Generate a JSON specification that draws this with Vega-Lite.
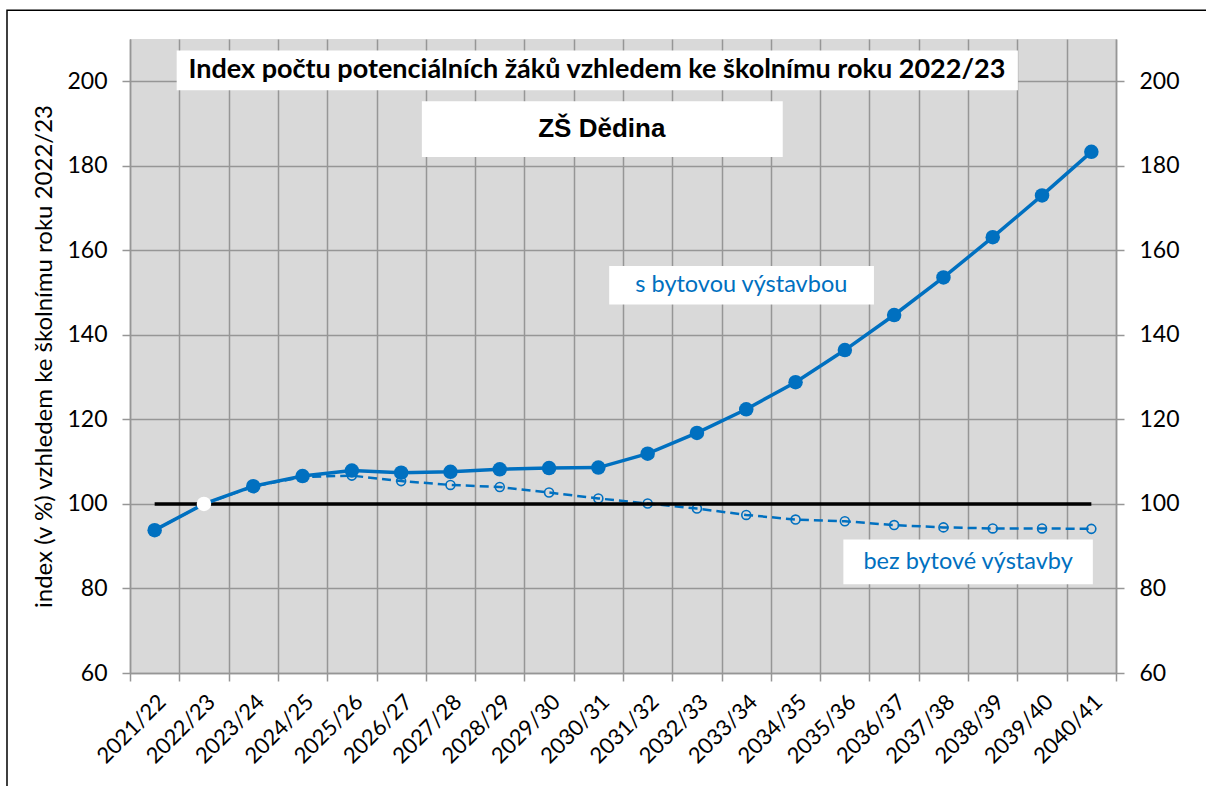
{
  "$schema": "https://vega.github.io/schema/vega-lite/v6.json",
  "width": 986,
  "height": 634,
  "autosize": {"type": "none"},
  "padding": {"left": 130, "top": 39, "right": 90, "bottom": 113},
  "background": "white",
  "config": {"view": {"fill": "#D9D9D9", "stroke": null}, "font": "Lato"},
  "datasets": {
    "series": [
      {"year": "2021/22", "series": "s bytovou výstavbou", "value": 93.8},
      {"year": "2022/23", "series": "s bytovou výstavbou", "value": 100},
      {"year": "2023/24", "series": "s bytovou výstavbou", "value": 104.2},
      {"year": "2024/25", "series": "s bytovou výstavbou", "value": 106.6},
      {"year": "2025/26", "series": "s bytovou výstavbou", "value": 107.9},
      {"year": "2026/27", "series": "s bytovou výstavbou", "value": 107.4},
      {"year": "2027/28", "series": "s bytovou výstavbou", "value": 107.6},
      {"year": "2028/29", "series": "s bytovou výstavbou", "value": 108.2},
      {"year": "2029/30", "series": "s bytovou výstavbou", "value": 108.5},
      {"year": "2030/31", "series": "s bytovou výstavbou", "value": 108.6},
      {"year": "2031/32", "series": "s bytovou výstavbou", "value": 111.9},
      {"year": "2032/33", "series": "s bytovou výstavbou", "value": 116.8},
      {"year": "2033/34", "series": "s bytovou výstavbou", "value": 122.4},
      {"year": "2034/35", "series": "s bytovou výstavbou", "value": 128.8},
      {"year": "2035/36", "series": "s bytovou výstavbou", "value": 136.4},
      {"year": "2036/37", "series": "s bytovou výstavbou", "value": 144.7},
      {"year": "2037/38", "series": "s bytovou výstavbou", "value": 153.6},
      {"year": "2038/39", "series": "s bytovou výstavbou", "value": 163.1},
      {"year": "2039/40", "series": "s bytovou výstavbou", "value": 173.0},
      {"year": "2040/41", "series": "s bytovou výstavbou", "value": 183.3},
      {"year": "2021/22", "series": "bez bytové výstavby", "value": 93.8},
      {"year": "2022/23", "series": "bez bytové výstavby", "value": 100},
      {"year": "2023/24", "series": "bez bytové výstavby", "value": 104.1},
      {"year": "2024/25", "series": "bez bytové výstavby", "value": 106.4},
      {"year": "2025/26", "series": "bez bytové výstavby", "value": 106.7},
      {"year": "2026/27", "series": "bez bytové výstavby", "value": 105.4},
      {"year": "2027/28", "series": "bez bytové výstavby", "value": 104.5},
      {"year": "2028/29", "series": "bez bytové výstavby", "value": 104.0},
      {"year": "2029/30", "series": "bez bytové výstavby", "value": 102.7},
      {"year": "2030/31", "series": "bez bytové výstavby", "value": 101.3},
      {"year": "2031/32", "series": "bez bytové výstavby", "value": 100.1},
      {"year": "2032/33", "series": "bez bytové výstavby", "value": 98.9},
      {"year": "2033/34", "series": "bez bytové výstavby", "value": 97.4},
      {"year": "2034/35", "series": "bez bytové výstavby", "value": 96.3},
      {"year": "2035/36", "series": "bez bytové výstavby", "value": 95.9},
      {"year": "2036/37", "series": "bez bytové výstavby", "value": 95.0},
      {"year": "2037/38", "series": "bez bytové výstavby", "value": 94.45},
      {"year": "2038/39", "series": "bez bytové výstavby", "value": 94.2},
      {"year": "2039/40", "series": "bez bytové výstavby", "value": 94.2},
      {"year": "2040/41", "series": "bez bytové výstavby", "value": 94.1},
      {"year": "2021/22", "series": "základ", "value": 100},
      {"year": "2022/23", "series": "základ", "value": 100},
      {"year": "2023/24", "series": "základ", "value": 100},
      {"year": "2024/25", "series": "základ", "value": 100},
      {"year": "2025/26", "series": "základ", "value": 100},
      {"year": "2026/27", "series": "základ", "value": 100},
      {"year": "2027/28", "series": "základ", "value": 100},
      {"year": "2028/29", "series": "základ", "value": 100},
      {"year": "2029/30", "series": "základ", "value": 100},
      {"year": "2030/31", "series": "základ", "value": 100},
      {"year": "2031/32", "series": "základ", "value": 100},
      {"year": "2032/33", "series": "základ", "value": 100},
      {"year": "2033/34", "series": "základ", "value": 100},
      {"year": "2034/35", "series": "základ", "value": 100},
      {"year": "2035/36", "series": "základ", "value": 100},
      {"year": "2036/37", "series": "základ", "value": 100},
      {"year": "2037/38", "series": "základ", "value": 100},
      {"year": "2038/39", "series": "základ", "value": 100},
      {"year": "2039/40", "series": "základ", "value": 100},
      {"year": "2040/41", "series": "základ", "value": 100}
    ],
    "notes": [
      {"id": "frame", "x": -2.495, "x2": 22, "y": 216.8, "y2": 30},
      {"id": "title", "x": 0.947, "x2": 18.01, "y": 207.3, "y2": 197.9, "tx": 9.47, "ty": 202.6, "label": "Index počtu potenciálních žáků vzhledem ke školnímu roku 2022/23"},
      {"id": "school", "x": 5.92, "x2": 13.24, "y": 195.3, "y2": 182.1, "tx": 9.57, "ty": 188.7, "label": "ZŠ Dědina"},
      {"id": "with", "x": 9.72, "x2": 15.09, "y": 156.3, "y2": 147.2, "tx": 12.4, "ty": 151.75, "label": "s bytovou výstavbou"},
      {"id": "without", "x": 14.47, "x2": 19.53, "y": 91.6, "y2": 81.0, "tx": 17.0, "ty": 86.25, "label": "bez bytové výstavby"}
    ]
  },
  "layer": [
    {
      "data": {"name": "series"},
      "encoding": {
        "x": {
          "field": "year", "type": "ordinal", "sort": null,
          "scale": {"type": "band", "paddingInner": 0, "paddingOuter": 0},
          "axis": {
            "title": null, "labelAngle": -45, "labelFont": "Lato", "labelFontSize": 22, "labelColor": "#000000",
            "labelPadding": 10, "tickBand": "extent", "grid": true, "gridColor": "#969696", "gridWidth": 1.5,
            "domainColor": "#969696", "domainWidth": 1.5, "tickColor": "#969696", "tickWidth": 1.5, "tickSize": 8
          }
        },
        "y": {
          "field": "value", "type": "quantitative",
          "scale": {"domain": [60, 210], "nice": false, "zero": false},
          "axis": {
            "orient": "left", "values": [60, 80, 100, 120, 140, 160, 180, 200],
            "title": "index (v %) vzhledem ke školnímu roku 2022/23", "titleFont": "Lato", "titleFontSize": 24,
            "titleFontWeight": "normal", "titleColor": "#000000", "titlePadding": 10,
            "labelFont": "Lato", "labelFontSize": 23, "labelColor": "#000000", "labelPadding": 15,
            "grid": true, "gridColor": "#969696", "gridWidth": 1.5,
            "domainColor": "#969696", "domainWidth": 1.5, "tickColor": "#969696", "tickWidth": 1.5, "tickSize": 8
          }
        }
      },
      "layer": [
        {"transform": [{"filter": "datum.series === 'bez bytové výstavby'"}], "mark": {"type": "line", "color": "#0070C0", "strokeWidth": 2.5, "strokeDash": [9, 5]}},
        {"transform": [{"filter": "datum.series === 'bez bytové výstavby'"}], "mark": {"type": "point", "shape": "circle", "filled": false, "size": 80, "strokeWidth": 1.6, "color": "#0070C0", "opacity": 1}},
        {"transform": [{"filter": "datum.series === 'základ'"}], "mark": {"type": "line", "color": "#000000", "strokeWidth": 3.5}},
        {"transform": [{"filter": "datum.series === 's bytovou výstavbou'"}], "mark": {"type": "line", "color": "#0070C0", "strokeWidth": 3.5}},
        {"transform": [{"filter": "datum.series === 's bytovou výstavbou'"}], "mark": {"type": "point", "shape": "circle", "filled": true, "size": 210, "opacity": 1},
         "encoding": {"color": {"condition": {"test": "datum.year === '2022/23'", "value": "#FFFFFF"}, "value": "#0070C0"}}}
      ]
    },
    {
      "data": {"name": "notes"},
      "layer": [
        {
          "transform": [{"filter": "datum.id === 'frame'"}],
          "mark": {"type": "rect", "fill": null, "filled": false, "stroke": "#000000", "strokeWidth": 1.5, "clip": false},
          "encoding": {
            "x": {"field": "x", "type": "quantitative", "scale": {"domain": [0, 20], "nice": false, "zero": false}, "axis": null},
            "x2": {"field": "x2"},
            "y": {"field": "y", "type": "quantitative", "scale": {"domain": [60, 210], "nice": false, "zero": false},
              "axis": {
                "orient": "right", "values": [60, 80, 100, 120, 140, 160, 180, 200], "title": null, "grid": false,
                "labelFont": "Lato", "labelFontSize": 23, "labelColor": "#000000", "labelPadding": 15,
                "domainColor": "#969696", "domainWidth": 1.5, "tickColor": "#969696", "tickWidth": 1.5, "tickSize": 8
              }},
            "y2": {"field": "y2"}
          }
        },
        {
          "transform": [{"filter": "datum.id !== 'frame'"}],
          "mark": {"type": "rect", "fill": "#FFFFFF", "stroke": null},
          "encoding": {
            "x": {"field": "x", "type": "quantitative"},
            "x2": {"field": "x2"},
            "y": {"field": "y", "type": "quantitative"},
            "y2": {"field": "y2"}
          }
        },
        {
          "transform": [{"filter": "datum.id === 'title'"}],
          "mark": {"type": "text", "font": "Lato", "fontSize": 27, "fontWeight": "bold", "color": "#000000", "baseline": "middle", "align": "center"},
          "encoding": {"x": {"field": "tx", "type": "quantitative"}, "y": {"field": "ty", "type": "quantitative"}, "text": {"field": "label"}}
        },
        {
          "transform": [{"filter": "datum.id === 'school'"}],
          "mark": {"type": "text", "font": "Liberation Sans", "fontSize": 26, "fontWeight": "bold", "color": "#000000", "baseline": "middle", "align": "center"},
          "encoding": {"x": {"field": "tx", "type": "quantitative"}, "y": {"field": "ty", "type": "quantitative"}, "text": {"field": "label"}}
        },
        {
          "transform": [{"filter": "datum.id === 'with' || datum.id === 'without'"}],
          "mark": {"type": "text", "font": "Lato", "fontSize": 23.5, "color": "#0070C0", "baseline": "middle", "align": "center"},
          "encoding": {"x": {"field": "tx", "type": "quantitative"}, "y": {"field": "ty", "type": "quantitative"}, "text": {"field": "label"}}
        }
      ]
    }
  ],
  "resolve": {"scale": {"x": "independent"}, "axis": {"y": "independent"}}
}
